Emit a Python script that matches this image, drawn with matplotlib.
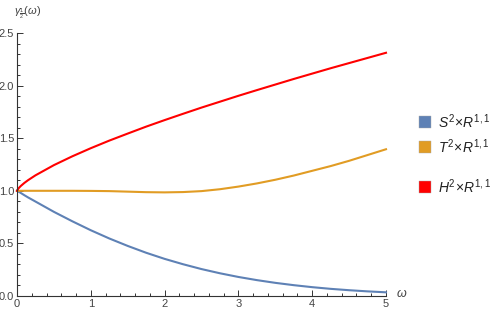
import matplotlib
matplotlib.use("Agg")
import matplotlib.pyplot as plt
from matplotlib.patches import Rectangle
from matplotlib.ticker import MultipleLocator, FormatStrFormatter

plt.rcParams['font.family'] = ['Liberation Sans', 'DejaVu Sans']
plt.rcParams['mathtext.fontset'] = 'custom'
plt.rcParams['mathtext.rm'] = 'Liberation Sans'
plt.rcParams['mathtext.it'] = 'Liberation Sans:italic'

# values
omega = [0, 0.02, 0.05, 0.1, 0.15, 0.25, 0.5, 0.75, 1, 1.25, 1.5, 1.75, 2, 2.25, 2.5,
         2.75, 3, 3.25, 3.5, 3.75, 4, 4.25, 4.5, 4.75, 5]
gamma_s2 = [1.0, 0.992, 0.98, 0.958, 0.937, 0.898, 0.80, 0.71, 0.625, 0.547, 0.476,
            0.411, 0.353, 0.302, 0.256, 0.216, 0.181, 0.151, 0.125, 0.103, 0.084,
            0.068, 0.055, 0.044, 0.035]
gamma_t2 = [1.0, 1.0, 1.0, 1.0, 1.0, 1.0, 1.0, 1.0, 0.999, 0.997, 0.992, 0.987, 0.985,
            0.988, 0.997, 1.015, 1.04, 1.07, 1.105, 1.145, 1.19, 1.235, 1.285, 1.34,
            1.395]
gamma_h2 = [1.0, 1.023, 1.045, 1.075, 1.101, 1.147, 1.244, 1.328, 1.405, 1.477, 1.544,
            1.61, 1.672, 1.732, 1.791, 1.847, 1.903, 1.957, 2.01, 2.063, 2.114, 2.165,
            2.214, 2.263, 2.312]

labels = [r'$S^2\!\times\! R^{1,1}$', r'$T^2\!\times\! R^{1,1}$', r'$H^2\!\times\! R^{1,1}$']
colors = ['#5E81B5', '#E19C24', '#FF0000']

fig = plt.figure(figsize=(4.98, 3.13), dpi=100)
ax = fig.add_axes([17 / 498, 17 / 313, 369 / 498, 263 / 313])

for ys, c in zip([gamma_s2, gamma_t2, gamma_h2], colors):
    ax.plot(omega, ys, color=c, lw=1.5, clip_on=False)

ax.set_xlim(0, 5)
ax.set_ylim(0, 2.5)
ax.xaxis.set_major_locator(MultipleLocator(1))
ax.xaxis.set_minor_locator(MultipleLocator(0.2))
ax.yaxis.set_major_locator(MultipleLocator(0.5))
ax.yaxis.set_minor_locator(MultipleLocator(0.1))
ax.yaxis.set_major_formatter(FormatStrFormatter('%.1f'))

for s in ['top', 'right']:
    ax.spines[s].set_visible(False)
for s in ['left', 'bottom']:
    ax.spines[s].set_color('#333333')
    ax.spines[s].set_linewidth(0.8)
ax.tick_params(which='both', direction='in', color='#333333', width=0.7,
               labelsize=8, labelcolor='#444444', pad=2)
ax.tick_params(which='major', length=4)
ax.tick_params(which='minor', length=2.5)

ax.text(5.14, 0.02, r'$\omega$', fontsize=9, color='#444444', va='center', ha='left')
fig.text(14 / 498, 1 - 13 / 313, r'$\gamma_{\frac{1}{2}}(\omega)$', fontsize=8,
         color='#444444', va='center', ha='left')

# legend
for lab, c, yc in zip(labels, colors, [122, 147, 187]):
    fig.add_artist(Rectangle((419 / 498, 1 - (yc + 6) / 313), 12 / 498, 12 / 313,
                             transform=fig.transFigure, facecolor=c,
                             edgecolor='#aaaaaa', lw=0.3))
    fig.text(438 / 498, 1 - yc / 313, lab, fontsize=10, color='#222222',
             va='center', ha='left')

fig.savefig('out.png', dpi=100)
